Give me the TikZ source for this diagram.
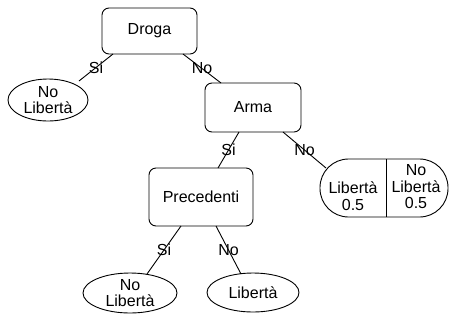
\documentclass[tikz,border=0pt]{standalone}
\usepackage{fontspec}
\setmainfont{Liberation Sans}
\usetikzlibrary{shapes.geometric}
\begin{document}
\begin{tikzpicture}[x=1pt,y=-1pt,
  every node/.style={font=\fontsize{16}{16.5}\selectfont, inner sep=0pt},
  box/.style={draw, rounded corners=7pt, line width=0.9pt, minimum width=95pt, minimum height=46pt},
  oval/.style={draw, ellipse, line width=0.9pt, align=center},
  capsulebox/.style={draw, rounded corners=28.5pt, line width=0.9pt, minimum width=128pt, minimum height=58pt},
  conn/.style={line width=0.9pt},
  lbl/.style={midway}]
\useasboundingbox (0,0) rectangle (449,322);
\node[box] (droga) at (149.5,31) {Droga};
\node[oval, minimum width=80pt, minimum height=42pt] (nl1) at (48,100) {No\\Libertà};
\node[box, minimum width=96pt, minimum height=49pt] (arma) at (253,107.5) {Arma};
\node[box, minimum width=104pt, minimum height=58pt] (prec) at (201,197) {Precedenti};
\node[capsulebox] (capsule) at (384,188) {};
\coordinate (dt) at (386,159);
\coordinate (db) at (386,217);
\draw[conn] (dt) -- (db);
\node[align=center] (c1) at (353,196) {Libertà\\0.5};
\node[align=center] (c2) at (416,187) {No\\Libertà\\0.5};
\node[oval, minimum width=94pt, minimum height=40pt] (nl2) at (130,293) {No\\Libertà};
\node[oval, minimum width=92pt, minimum height=39pt] (lib) at (253,292.5) {Libertà};
\coordinate (e1a) at (113,54); \coordinate (e1b) at (79,81);
\coordinate (e2a) at (183,54); \coordinate (e2b) at (221,83);
\coordinate (e3a) at (239,132); \coordinate (e3b) at (218,168);
\coordinate (e4a) at (283,132); \coordinate (e4b) at (326,168);
\coordinate (e5a) at (181,226); \coordinate (e5b) at (147,274);
\coordinate (e6a) at (216,226); \coordinate (e6b) at (241,274);
\draw[conn] (e1a) -- (e1b) node[lbl] (l1) {Si};
\draw[conn] (e2a) -- (e2b) node[lbl] (l2) {No};
\draw[conn] (e3a) -- (e3b) node[lbl] (l3) {Si};
\draw[conn] (e4a) -- (e4b) node[lbl] (l4) {No};
\draw[conn] (e5a) -- (e5b) node[lbl] (l5) {Si};
\draw[conn] (e6a) -- (e6b) node[lbl] (l6) {No};
\end{tikzpicture}
\end{document}
